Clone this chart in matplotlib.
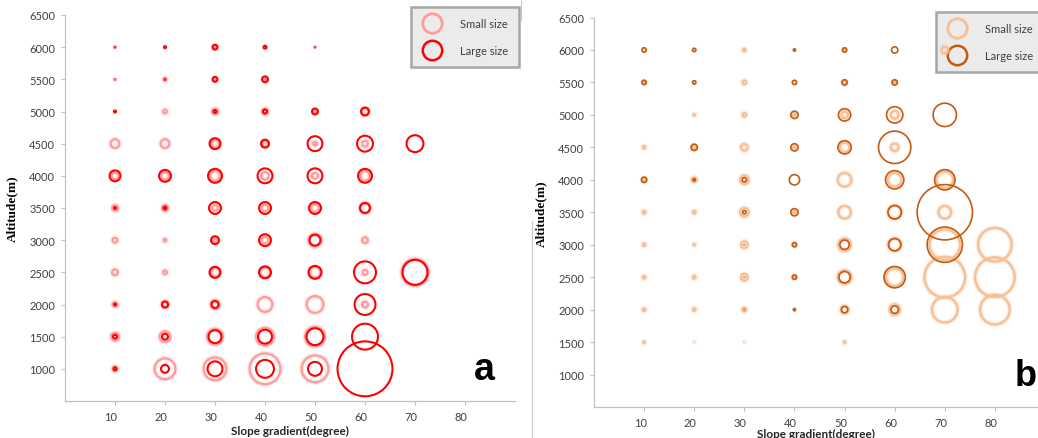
import numpy as np
import matplotlib
matplotlib.use("Agg")
import matplotlib.pyplot as plt
import matplotlib.transforms as mtransforms
from matplotlib.lines import Line2D

# Bubble grids: rows follow the altitude list, columns the slope list; None = no bubble.
a_slopes = [10, 20, 30, 40, 50, 60, 70]
a_altitudes = [6000, 5500, 5000, 4500, 4000, 3500, 3000, 2500, 2000, 1500, 1000]
a_small = [
    [2, 3, 4, 3, None, None, None],
    [3, 5, 4, 5, None, None, None],
    [2, 6, 8, 8, 6, 9, None],
    [11, 11, 10, 8, 6, 8, None],
    [9, 10, 12, 10, 8, 12, None],
    [8, 8, 8, 9, 10, 13, None],
    [7, 5, 6, 9, 15, 8, None],
    [8, 6, 11, 12, 13, 7, 29],
    [7, 9, 11, 17, 19, 8, None],
    [10, 13, 18, 20, 22, None, None],
    [7, 23, 25, 33, 29, None, None],
]
a_large = [
    [3, 4, 7, 5, 3, None, None],
    [2, 3, 7, 8, None, None, None],
    [4, None, 5, 6, 8, 10, None],
    [None, None, 13, 10, 17, 18, 19],
    [13, 14, 16, 17, 17, 16, None],
    [4, 5, 14, 14, 14, 12, None],
    [None, None, 10, 14, 13, None, None],
    [None, None, 13, 14, 15, 24, 27],
    [4, 8, 9, None, None, 23, None],
    [6, 8, 15, 16, 19, 28, None],
    [5, 10, 17, 20, 16, 57, None],
]

b_slopes = [10, 20, 30, 40, 50, 60, 70, 80]
b_altitudes = [6000, 5500, 5000, 4500, 4000, 3500, 3000, 2500, 2000, 1500]
b_small = [
    [3, 3, 5, None, 4, None, 9, None],
    [5, 3, 6, 3, 6, 5, None, None],
    [None, 4, 6, 5, 9, 10, None, None],
    [5, 6, 9, 5, 12, 10, None, None],
    [6, 7, 11, None, 16, 16, 19, None],
    [5, 5, 11, 5, 15, 16, 15, None],
    [5, 4, 9, 4, 15, 15, 33, 36],
    [5, 5, 9, 5, 16, 20, 43, 42],
    [5, 5, 6, None, 10, 13, 28, 32],
    [4, 3, 3, None, 4, None, None, None],
]
b_large = [
    [6, 5, None, 4, 6, 8, None, None],
    [6, 5, None, 6, 7, 7, None, None],
    [None, None, None, 9, 14, 18, 25, None],
    [None, 8, None, 9, 15, 34, None, None],
    [7, 4, 6, 12, None, 20, 22, None],
    [None, None, 5, 9, None, 15, 57, None],
    [None, None, 2, 6, 11, 14, 37, None],
    [None, None, 2, 6, 13, 23, None, None],
    [None, None, 2, 4, 8, 9, None, None],
    [None, None, None, None, None, None, None, None],
]

y_ticks = [1000, 1500, 2000, 2500, 3000, 3500, 4000, 4500, 5000, 5500, 6000, 6500]
x_ticks = [10, 20, 30, 40, 50, 60, 70, 80]

PX = 0.72  # points per pixel at dpi 100
TICK_FONT = "Lato"


def grid_points(slopes, altitudes, grid):
    xs, ys, ds = [], [], []
    for alt, row in zip(altitudes, grid):
        for slope, d in zip(slopes, row):
            if d is not None:
                xs.append(slope)
                ys.append(alt)
                ds.append(d)
    return np.array(xs), np.array(ys), np.array(ds, dtype=float)


def ring_sizes(ds, lw):
    ms = np.maximum(ds * PX - lw, 0.4)
    return ms ** 2


def draw_panel(ax, slopes, altitudes, small, large, light, dark, lw_light, lw_dark,
               xmax, xlabelpad):
    x, y, d = grid_points(slopes, altitudes, small)
    # soft halo under the light rings
    ax.scatter(x, y, s=ring_sizes(d, lw_light), facecolors="none", edgecolors=light,
               linewidths=lw_light * 2.2, alpha=0.25, zorder=6)
    ax.scatter(x, y, s=ring_sizes(d, lw_light), facecolors="none", edgecolors=light,
               linewidths=lw_light, zorder=6)
    x, y, d = grid_points(slopes, altitudes, large)
    ax.scatter(x, y, s=ring_sizes(d, lw_dark), facecolors="none", edgecolors=dark,
               linewidths=lw_dark, zorder=7)

    ax.set_xlim(0, xmax)
    ax.set_ylim(500, 6500)
    ax.set_xticks(x_ticks)
    ax.set_yticks(y_ticks)
    for s in ("top", "right"):
        ax.spines[s].set_visible(False)
    for s in ("left", "bottom"):
        ax.spines[s].set_color("#c0c0c0")
        ax.spines[s].set_linewidth(0.9)
    ax.tick_params(axis="both", direction="out", length=3, width=0.8, color="#c0c0c0",
                   labelsize=8, labelcolor="#404040", pad=4)
    for lab in ax.get_xticklabels() + ax.get_yticklabels():
        lab.set_fontfamily(TICK_FONT)
    shift = mtransforms.ScaledTranslation(-4 / 100, 0, ax.figure.dpi_scale_trans)
    for lab in ax.get_xticklabels():
        lab.set_transform(lab.get_transform() + shift)

    ax.set_xlabel("Slope gradient(degree)", fontsize=8.5, fontweight="bold",
                  family="Lato", color="#262626", labelpad=xlabelpad)
    ax.set_ylabel("Altitude(m)", fontsize=9.5, fontweight="bold",
                  family="Liberation Serif", color="#000000", labelpad=8)

    handles = [
        Line2D([], [], ls="none", marker="o", ms=14, mfc="none", mec=light, mew=2.0),
        Line2D([], [], ls="none", marker="o", ms=14, mfc="none", mec=dark, mew=1.8),
    ]
    return handles


fig = plt.figure(figsize=(10.38, 4.39), dpi=100)

ax_a = fig.add_axes([65 / 1038, 37 / 439, 450 / 1038, 386 / 439])
h_a = draw_panel(ax_a, a_slopes, a_altitudes, a_small, a_large,
                 "#ff9c9c", "#ff0000", 1.6, 1.5, 90, 2)
ax_b = fig.add_axes([594 / 1038, 31 / 439, 444 / 1038, 389.5 / 439])
h_b = draw_panel(ax_b, b_slopes, b_altitudes, b_small, b_large,
                 "#f7bf94", "#c55a11", 1.7, 1.2, 88.6, 0)

leg_kw = dict(frameon=True, fancybox=False, framealpha=1,
              borderpad=1.0, labelspacing=1.45, handlelength=1.8, handletextpad=1.6,
              borderaxespad=0, prop={"family": TICK_FONT, "size": 8})
leg_a = ax_a.legend(h_a, ["Small size", "Large size"], loc="upper right",
                    bbox_to_anchor=(519 / 1038, 1 - 8 / 439),
                    bbox_transform=fig.transFigure, **leg_kw)
leg_b = ax_b.legend(h_b, ["Small size", "Large size"], loc="upper left",
                    bbox_to_anchor=(936 / 1038, 1 - 13 / 439),
                    bbox_transform=fig.transFigure, **leg_kw)
for leg in (leg_a, leg_b):
    leg.set_zorder(5)
    fr = leg.get_frame()
    fr.set_facecolor("#ebebeb")
    fr.set_edgecolor("#a6a6a6")
    fr.set_linewidth(1.8)
    for t in leg.get_texts():
        t.set_color("#404040")

fig.text(484 / 1038, 1 - 370 / 439, "a", fontsize=27, fontweight="bold",
         family="Liberation Sans", ha="center", va="center")
fig.text(1037 / 1038, 1 - 386 / 439, "b", fontsize=26, fontweight="bold",
         family="Liberation Sans", ha="right", va="baseline")

# thin frame edges between the two panels
fig.add_artist(Line2D([521 / 1038, 521 / 1038], [1, 1 - 21 / 439],
                      transform=fig.transFigure, color="#c8c8c8", lw=0.8))
fig.add_artist(Line2D([532 / 1038, 532 / 1038], [1 - 222 / 439, 0],
                      transform=fig.transFigure, color="#c8c8c8", lw=0.8))

fig.savefig("out.png", dpi=100)
